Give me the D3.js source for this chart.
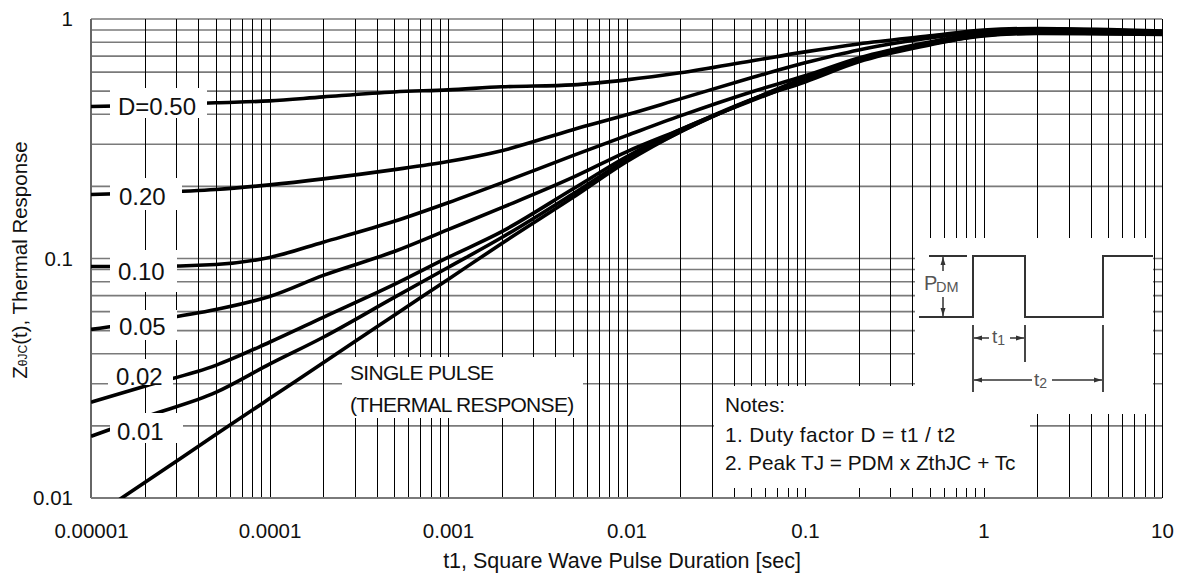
<!DOCTYPE html>
<html><head><meta charset="utf-8">
<script src="https://cdn.jsdelivr.net/npm/d3@7"></script>
<style>
body{margin:0;background:#fff}
svg{display:block}
text{font-family:"Liberation Sans",Arial,Helvetica,sans-serif;fill:#111}
</style>
</head><body>
<svg id="chart" width="1180" height="576"></svg>
<script>
// ---------- data ----------
const tValues = [1e-5,2e-5,5e-5,1e-4,2e-4,5e-4,1e-3,2e-3,5e-3,1e-2,2e-2,5e-2,0.1,0.2,0.5,1,2,5,10];
const d050   = [0.431,0.436,0.447,0.455,0.473,0.496,0.506,0.521,0.531,0.557,0.596,0.668,0.729,0.787,0.850,0.900,0.913,0.904,0.891];
const d020   = [0.185,0.188,0.194,0.203,0.215,0.235,0.254,0.282,0.345,0.398,0.464,0.568,0.656,0.743,0.833,0.887,0.909,0.896,0.887];
const d010   = [0.0926,0.0926,0.0944,0.101,0.117,0.143,0.171,0.207,0.269,0.326,0.394,0.496,0.579,0.688,0.802,0.874,0.900,0.887,0.879];
const d005   = [0.0506,0.0546,0.0613,0.0694,0.0850,0.107,0.132,0.163,0.218,0.279,0.345,0.460,0.546,0.662,0.779,0.858,0.891,0.883,0.874];
const d002   = [0.0251,0.0293,0.0358,0.0447,0.0568,0.0779,0.101,0.1295,0.195,0.266,0.345,0.455,0.557,0.675,0.787,0.858,0.883,0.874,0.870];
const d001   = [0.0181,0.0218,0.0276,0.0362,0.0469,0.0688,0.0917,0.1223,0.186,0.2585,0.3381,0.4598,0.5623,0.6749,0.787,0.8536,0.874,0.870,0.866];
const single = [0.00821,0.0116,0.0184,0.0260,0.0367,0.0580,0.0818,0.1155,0.1796,0.2536,0.3381,0.4598,0.5678,0.6749,0.787,0.850,0.870,0.866,0.862];
const seriesValues = [d050,d020,d010,d005,d002,d001,single];
const curveLabels = ["D=0.50","0.20","0.10","0.05","0.02","0.01"];
const singleLabel = ["SINGLE PULSE","(THERMAL RESPONSE)"];
const notesLines = ["Notes:","1. Duty factor D = t1 / t2","2. Peak TJ = PDM x ZthJC + Tc"];
const xTickValues = [1e-5,1e-4,1e-3,1e-2,0.1,1,10];
const xTickLabels = ["0.00001","0.0001","0.001","0.01","0.1","1","10"];
const yTickValues = [0.01,0.1,1];
const yTickLabels = ["0.01","0.1","1"];
const xTitle = "t1, Square Wave Pulse Duration [sec]";

// ---------- layout ----------
const L = 91, R = 1162, T = 19, B = 498;
const svg = d3.select("#chart");
const x = d3.scaleLog().domain([1e-5,10]).range([L,R]);
const y = d3.scaleLog().domain([0.01,1]).range([B,T]);

// grid
const grid = svg.append("g");
grid.selectAll("line.h").data(y.ticks()).join("line")
  .attr("x1",L).attr("x2",R).attr("y1",d=>y(d)).attr("y2",d=>y(d))
  .attr("stroke","#7a7a7a").attr("stroke-width",1.6);
grid.selectAll("line.v").data(x.ticks()).join("line")
  .attr("x1",d=>Math.round(x(d))+0.5).attr("x2",d=>Math.round(x(d))+0.5).attr("y1",T).attr("y2",B)
  .attr("stroke","#000").attr("stroke-width",1);
// frame
svg.append("line").attr("x1",L).attr("x2",L).attr("y1",T).attr("y2",B).attr("stroke","#666").attr("stroke-width",2);
svg.append("line").attr("x1",L).attr("x2",R).attr("y1",B).attr("y2",B).attr("stroke","#7a7a7a").attr("stroke-width",2);

// curves
svg.append("clipPath").attr("id","plotclip").append("rect")
  .attr("x",L).attr("y",T).attr("width",R-L).attr("height",B-T);
const line = d3.line().x((d,i)=>x(tValues[i])).y(d=>y(d)).curve(d3.curveMonotoneX);
svg.append("g").attr("clip-path","url(#plotclip)")
  .selectAll("path").data(seriesValues).join("path")
  .attr("d",line).attr("fill","none").attr("stroke","#000")
  .attr("stroke-width",3.6).attr("stroke-linejoin","round");

// label boxes (white) with text
const labelLayout = [
  {x0:110,y0:88, w:97,h:30, tx:118,ty:115,fs:24},
  {x0:110,y0:178,w:72,h:32, tx:119,ty:205,fs:24},
  {x0:110,y0:250,w:67,h:42, tx:118,ty:280,fs:24},
  {x0:110,y0:310,w:67,h:30, tx:119,ty:335,fs:24},
  {x0:108,y0:359,w:65,h:26, tx:116,ty:385,fs:24},
  {x0:110,y0:413,w:73,h:30, tx:117,ty:440,fs:24}
];
const lab = svg.append("g");
curveLabels.forEach((s,i)=>{
  const p = labelLayout[i];
  lab.append("rect").attr("x",p.x0).attr("y",p.y0).attr("width",p.w).attr("height",p.h).attr("fill","#fff");
  lab.append("text").attr("x",p.tx).attr("y",p.ty).attr("font-size",p.fs).text(s);
});

// single pulse label
lab.append("rect").attr("x",342).attr("y",357).attr("width",241).attr("height",61).attr("fill","#fff");
singleLabel.forEach((s,i)=>{
  lab.append("text").attr("x",350).attr("y",380+i*32).attr("font-size",21)
    .attr("letter-spacing",-0.7).text(s);
});

// notes box
lab.append("rect").attr("x",714).attr("y",386).attr("width",316).attr("height",102).attr("fill","#fff");
notesLines.forEach((s,i)=>{
  lab.append("text").attr("x",725).attr("y",[412,442,470][i]).attr("font-size",20.8)
    .attr("letter-spacing",i===1?0.4:0).text(s);
});

// inset box and diagram
lab.append("rect").attr("x",915).attr("y",238).attr("width",238).attr("height",176).attr("fill","#fff");
const ins = svg.append("g").attr("transform","translate(915,238)");
const ink = "#333";
ins.append("path").attr("d","M4,79H58V18H110V79H188V18H238").attr("fill","none").attr("stroke",ink).attr("stroke-width",2);
ins.append("path").attr("d","M14,18H52").attr("stroke",ink).attr("stroke-width",2);
// extension lines
ins.append("path").attr("d","M58,87V154M110,87V124M188,87V154").attr("stroke",ink).attr("stroke-width",1.8);
// PDM arrow
ins.append("path").attr("d","M28,19V33M28,59V78").attr("stroke",ink).attr("stroke-width",1.5);
ins.append("path").attr("d","M28,19L25.5,27H30.5Z M28,78L25.5,70H30.5Z").attr("fill",ink);
// t1 and t2 dimension lines
ins.append("path").attr("d","M59,100H74M95,100H109M59,142H117M137,142H187").attr("stroke",ink).attr("stroke-width",1.5);
ins.append("path").attr("d","M59,100L67,97.5V102.5Z M109,100L101,97.5V102.5Z M59,142L67,139.5V144.5Z M187,142L179,139.5V144.5Z").attr("fill",ink);
const itx = ins.append("g");
itx.append("text").attr("x",9).attr("y",52).attr("font-size",20).style("fill","#555").text("P");
itx.append("text").attr("x",21).attr("y",54).attr("font-size",14.5).style("fill","#555").text("DM");
const t1 = itx.append("text").attr("x",77).attr("y",105).attr("font-size",19).style("fill","#555");
t1.append("tspan").text("t");
t1.append("tspan").attr("font-size",14).attr("dy",2).text("1");
const t2 = itx.append("text").attr("x",119).attr("y",148).attr("font-size",19).style("fill","#555");
t2.append("tspan").text("t");
t2.append("tspan").attr("font-size",14).attr("dy",2).text("2");

// axes
const xAxis = d3.axisBottom(x).tickValues(xTickValues).tickSize(0).tickPadding(25)
  .tickFormat((d,i)=>xTickLabels[i]);
const gx = svg.append("g").attr("transform",`translate(0,${B})`).call(xAxis);
gx.select(".domain").remove();
gx.selectAll("text").attr("font-size",20.5).attr("font-family","Liberation Sans, Arial, sans-serif").attr("fill","#111");

const yAxis = d3.axisLeft(y).tickValues(yTickValues).tickSize(0).tickPadding(18)
  .tickFormat((d,i)=>yTickLabels[i]);
const gy = svg.append("g").attr("transform",`translate(${L},0)`).call(yAxis);
gy.select(".domain").remove();
gy.selectAll("text").attr("font-size",20.5).attr("font-family","Liberation Sans, Arial, sans-serif").attr("fill","#111");

// titles
svg.append("text").attr("x",622).attr("y",568).attr("text-anchor","middle").attr("font-size",21.5).text(xTitle);
const yt = svg.append("text").attr("transform","translate(27,260) rotate(-90)").attr("text-anchor","middle").attr("font-size",20.5);
yt.append("tspan").text("Z");
yt.append("tspan").attr("font-size",12).text("θJC");
yt.append("tspan").text("(t), Thermal Response");
</script>
</body></html>
